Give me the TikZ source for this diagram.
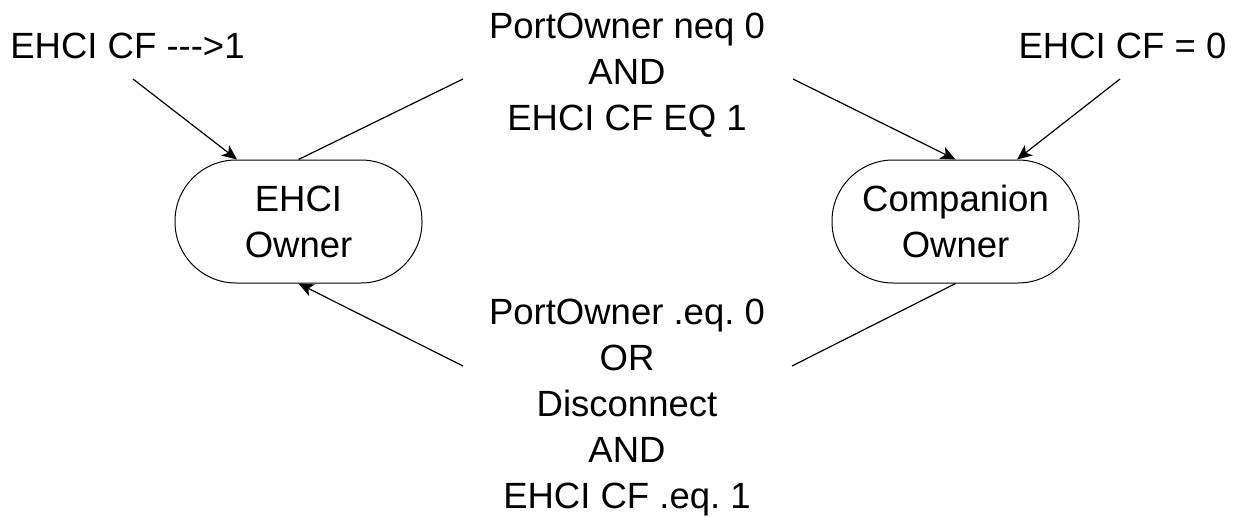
\documentclass[tikz,border=0pt]{standalone}
\usepackage{fontspec}
\setmainfont{Liberation Sans}
\usetikzlibrary{arrows.meta}
\frenchspacing

\begin{document}
\begin{tikzpicture}[x=1pt, y=-1pt, >={Stealth[length=15pt,width=13pt,inset=4pt]},
		owner/.style={draw, line width=1pt, rounded corners=61pt, minimum width=247pt,
			minimum height=123pt, align=center, inner sep=0pt},
		cond/.style={align=center, anchor=base, inner sep=0pt},
		every node/.style={font=\fontsize{36.5}{46}\selectfont},
		every path/.style={line width=1.2pt}]
		\useasboundingbox (0,0) rectangle (1236,517);
		% states
		\node[owner] (ehci) at (298.5,221.5) {EHCI\\Owner};
		\node[owner] (comp) at (955.5,221.5) {Companion\\Owner};
		% conditions (base = last line)
		\node[cond] (setcf) at (127.5,58) {EHCI CF -{}-{}->1};
		\node[cond] (clrcf) at (1122.5,58) {EHCI CF = 0};
		\node[cond] (tocomp) at (627,130) {PortOwner neq 0\\AND\\EHCI CF EQ 1};
		\node[cond] (toehci) at (627,508) {PortOwner .eq. 0\\OR\\Disconnect\\AND\\EHCI CF .eq. 1};
		\coordinate (s1) at (133,79);
		\coordinate (s2) at (1120,79);
		\coordinate (tl) at (463,79);
		\coordinate (tr) at (793,79);
		\coordinate (bl) at (463,366);
		\coordinate (br) at (792,366);
		% transitions
		\draw[->] (s1) -- ([xshift=-61.5pt]ehci.north);
		\draw[->] (s2) -- ([xshift=61.5pt]comp.north);
		\draw[->] (ehci.north) -- (tl) (tr) -- (comp.north);
		\draw[->] (comp.south) -- (br) (bl) -- (ehci.south);
	\end{tikzpicture}
\end{document}
